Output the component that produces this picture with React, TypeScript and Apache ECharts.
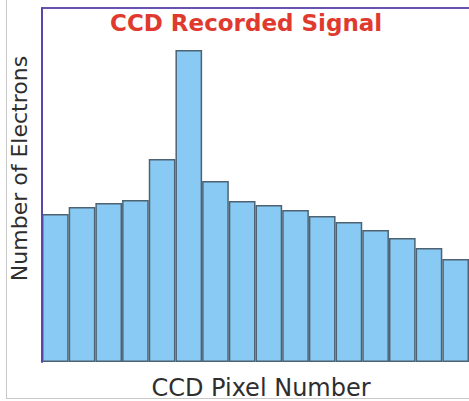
import React, { useEffect, useRef } from "react";
import * as echarts from "echarts";

const TITLE = "CCD Recorded Signal";
const X_NAME = "CCD Pixel Number";
const Y_NAME = "Number of Electrons";
const pixels = ["1", "2", "3", "4", "5", "6", "7", "8", "9", "10", "11", "12", "13", "14", "15", "16"];
const electrons = [148, 155, 159, 162, 203, 312, 181, 161, 157, 152, 146, 140, 132, 124, 114, 103];
const Y_MAX = 354;

export default function App() {
  const ref = useRef<HTMLDivElement>(null);
  useEffect(() => {
    if (!ref.current) return;
    const chart = echarts.init(ref.current, null, { renderer: "svg" });
    chart.setOption({
      animation: false,
      backgroundColor: "#ffffff",
      title: {
        text: TITLE,
        left: 110,
        top: 11,
        padding: 0,
        textStyle: {
          color: "#e03a2e",
          fontFamily: "DejaVu Sans",
          fontWeight: "bold",
          fontSize: 23,
        },
      },
      grid: {
        left: 42,
        top: 8,
        right: 0,
        height: 354,
        containLabel: false,
        outerBoundsMode: "none",
      },
      xAxis: [
        {
          type: "category",
          data: pixels,
          position: "bottom",
          axisLine: { show: false },
          axisTick: { show: false },
          axisLabel: { show: false },
          name: X_NAME,
          nameLocation: "middle",
          nameGap: 14,
          nameTextStyle: {
            color: "#2e2e2e",
            fontFamily: "DejaVu Sans",
            fontSize: 24,
            padding: [0, 0, 0, 11],
            verticalAlign: "top",
          },
        },
        {
          type: "category",
          data: pixels,
          position: "top",
          axisLine: { show: true, lineStyle: { color: "#6a52b3", width: 2 } },
          axisTick: { show: false },
          axisLabel: { show: false },
        },
      ],
      yAxis: {
        type: "value",
        min: 0,
        max: Y_MAX,
        z: 5,
        axisLine: { show: true, lineStyle: { color: "#5b46a8", width: 2 } },
        axisTick: { show: false },
        axisLabel: { show: false },
        splitLine: { show: false },
        name: Y_NAME,
        nameLocation: "middle",
        nameRotate: 90,
        nameGap: 12,
        nameTextStyle: {
          color: "#2e2e2e",
          fontFamily: "DejaVu Sans",
          fontSize: 22,
          padding: [0, 0, 0, 33],
        },
      },
      series: [
        {
          type: "bar",
          data: electrons,
          barWidth: "100%",
          barCategoryGap: 0,
          itemStyle: {
            color: "#88caf4",
            borderColor: "#4d6373",
            borderWidth: 1.5,
          },
        },
      ],
      graphic: [
        {
          type: "line",
          shape: { x1: 6.5, y1: 0, x2: 6.5, y2: 398.5 },
          style: { stroke: "#c8c8c8", lineWidth: 1 },
          z: 10,
        },
        {
          type: "line",
          shape: { x1: 6, y1: 398.5, x2: 469, y2: 398.5 },
          style: { stroke: "#c8c8c8", lineWidth: 1 },
          z: 10,
        },
      ],
    });
    return () => chart.dispose();
  }, []);
  return (
    <div
      ref={ref}
      style={{ position: "fixed", left: 0, top: 0, width: 469, height: 401 }}
    />
  );
}
